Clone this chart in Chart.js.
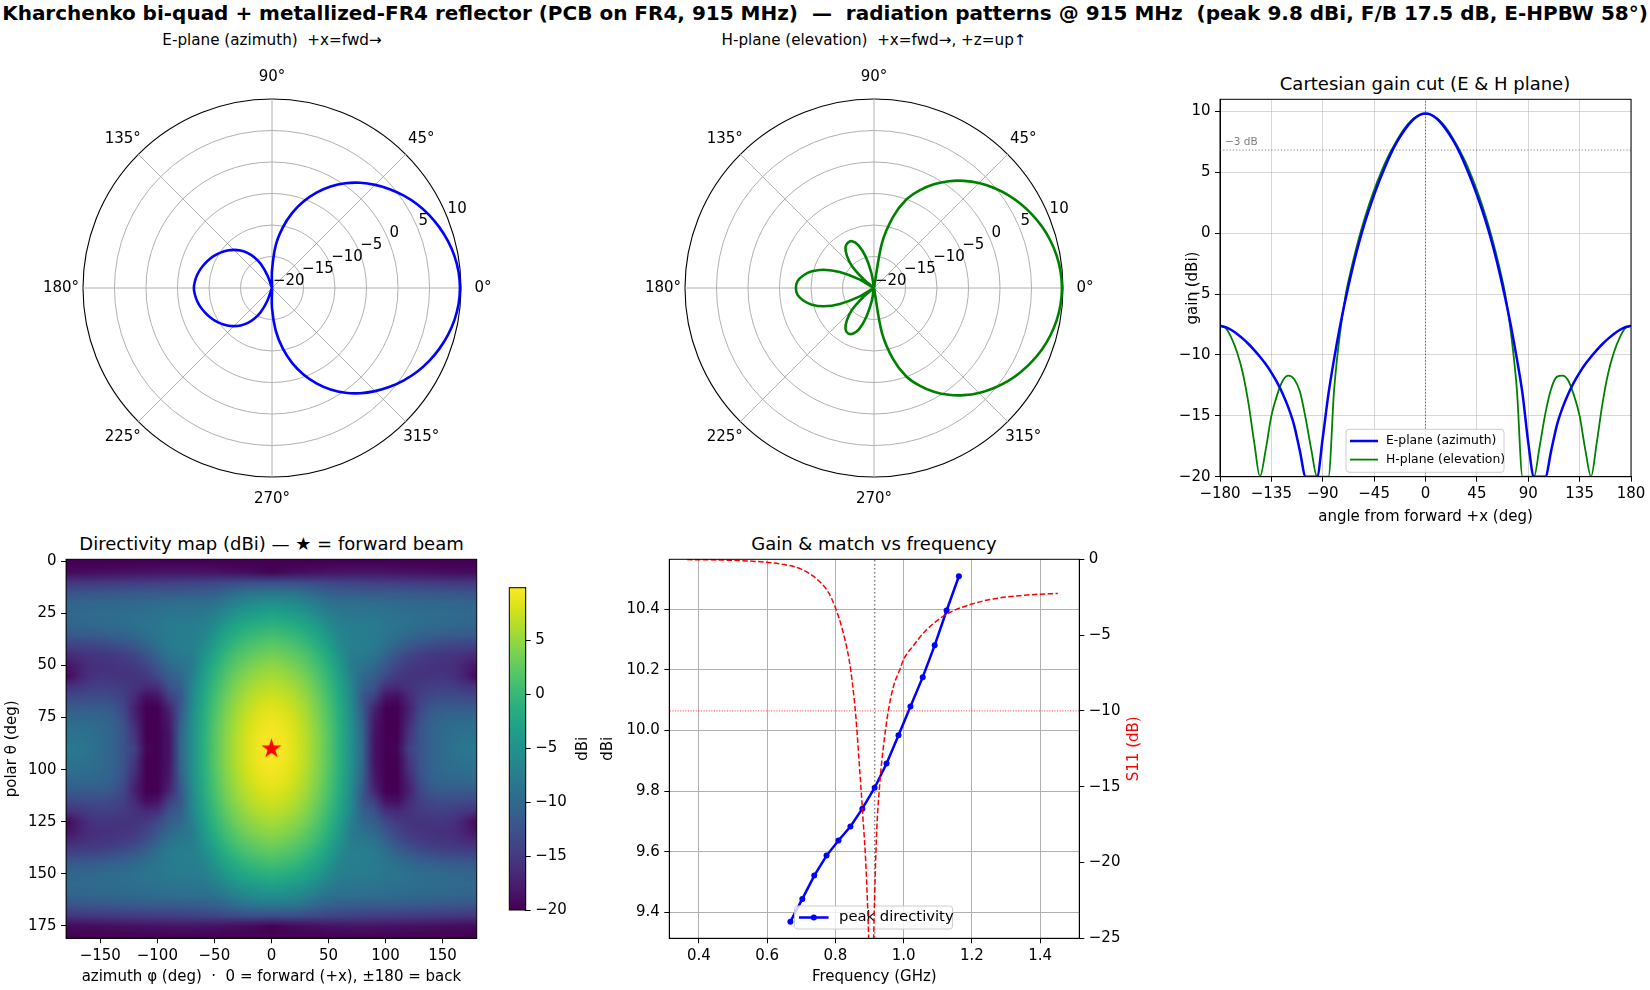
<!DOCTYPE html>
<html>
<head>
<meta charset="utf-8">
<script src="https://cdn.jsdelivr.net/npm/chart.js@4.4.0/dist/chart.umd.min.js"></script>
<style>
  html, body { margin: 0; padding: 0; background: #fff; overflow: hidden; }
  body { width: 1650px; height: 990px; position: relative; font-family: 'DejaVu Sans', sans-serif; }
  canvas { position: absolute; }
  .txt { position: absolute; white-space: pre; transform: translate(-50%, -50%); color: #000; }
</style>
</head>
<body>
<div class="txt" style="left:825px;top:13px;font-size:20px;font-weight:bold">Kharchenko bi-quad + metallized-FR4 reflector (PCB on FR4, 915 MHz)  —  radiation patterns @ 915 MHz  (peak 9.8 dBi, F/B 17.5 dB, E-HPBW 58°)</div>
<div class="txt" style="left:272px;top:40px;font-size:15.2px">E-plane (azimuth)  +x=fwd→</div>
<div class="txt" style="left:874px;top:40px;font-size:15.2px">H-plane (elevation)  +x=fwd→, +z=up↑</div>
<div class="txt" style="left:1425px;top:83px;font-size:18px">Cartesian gain cut (E &amp; H plane)</div>
<div class="txt" style="left:271.5px;top:543px;font-size:18px">Directivity map (dBi) — ★ = forward beam</div>
<div class="txt" style="left:874px;top:543px;font-size:18px">Gain &amp; match vs frequency</div>

<canvas id="ePolar" width="480" height="480" style="left:32px;top:48px;width:480px;height:480px"></canvas>
<canvas id="hPolar" width="480" height="480" style="left:634px;top:48px;width:480px;height:480px"></canvas>
<canvas id="cut" width="500" height="470" style="left:1150px;top:60px;width:500px;height:470px"></canvas>
<canvas id="heat" width="500" height="470" style="left:0px;top:520px;width:500px;height:470px"></canvas>
<canvas id="cbar" width="100" height="380" style="left:500px;top:560px;width:100px;height:380px"></canvas>
<canvas id="freq" width="590" height="470" style="left:590px;top:520px;width:590px;height:470px"></canvas>

<script>
// ---- pattern cuts, 5 deg steps, angle from forward +x ----
const angleDeg = [-180, -175, -170, -165, -160, -155, -150, -145, -140, -135, -130, -125, -120, -115, -110, -105, -100, -95, -90,
  -85, -80, -75, -70, -65, -60, -55, -50, -45, -40, -35, -30, -25, -20, -15, -10, -5, 0,
  5, 10, 15, 20, 25, 30, 35, 40, 45, 50, 55, 60, 65, 70, 75, 80, 85, 90,
  95, 100, 105, 110, 115, 120, 125, 130, 135, 140, 145, 150, 155, 160, 165, 170, 175, 180]
const ePlaneDb = [-7.6, -7.72, -7.95, -8.27, -8.66, -9.1, -9.6, -10.15, -10.75, -11.45, -12.25, -13.2, -14.35, -15.8, -17.9, -20, -20, -20, -16.8,
  -13.2, -10.3, -7.7, -5.4, -3.3, -1.4, 0.3, 1.8, 3.15, 4.4, 5.55, 6.6, 7.5, 8.25, 8.9, 9.4, 9.72, 9.83,
  9.72, 9.4, 8.9, 8.25, 7.5, 6.6, 5.55, 4.4, 3.15, 1.8, 0.3, -1.4, -3.3, -5.4, -7.7, -10.3, -13.2, -17.2,
  -20, -20, -20, -17.9, -15.8, -14.35, -13.2, -12.25, -11.45, -10.75, -10.15, -9.6, -9.1, -8.66, -8.27, -7.95, -7.72, -7.6]
const hPlaneDb = [-7.6, -7.8, -8.6, -9.8, -11.5, -14.0, -17.2, -20, -17.8, -15.0, -13.3, -12.1, -11.7, -12.0, -13.0, -15.2, -17.8, -20, -20,
  -20, -12.8, -8.3, -5.1, -2.9, -1.0, 0.7, 2.2, 3.55, 4.75, 5.85, 6.8, 7.65, 8.4, 9.0, 9.45, 9.73, 9.83,
  9.73, 9.45, 9.0, 8.4, 7.65, 6.8, 5.85, 4.75, 3.55, 2.2, 0.7, -1.0, -2.9, -5.1, -8.3, -12.8, -20, -20,
  -20, -17.5, -14.8, -12.8, -11.8, -11.7, -12.1, -13.3, -15.0, -17.8, -20, -17.2, -14.0, -11.5, -9.8, -8.6, -7.8, -7.6]
const peakDbi = 9.83

const thetaTicks = [0, 45, 90, 135, 180, 225, 270, 315]
const rTicks = [-20, -15, -10, -5, 0, 5, 10]
const cutXTicks = [-180, -135, -90, -45, 0, 45, 90, 135, 180]
const cutYTicks = [-20, -15, -10, -5, 0, 5, 10]

// ---- directivity map, one quadrant (phi 0..180 by 10, theta 0..90 by 5); the map is mirrored in phi and theta ----
const heatPhi = [0, 10, 20, 30, 40, 50, 60, 70, 80, 90, 100, 110, 120, 130, 140, 150, 160, 170, 180]
const heatTheta = [0, 5, 10, 15, 20, 25, 30, 35, 40, 45, 50, 55, 60, 65, 70, 75, 80, 85, 90]
const dirQuadrant = [
  [-20, -20, -20, -20, -20, -20, -20, -20, -20, -20, -20, -20, -20, -20, -20, -20, -20, -20, -20],
  [-20, -19.5, -19.2, -19.0, -18.8, -18.6, -18.5, -18.4, -18.4, -18.4, -18.5, -18.6, -18.7, -18.8, -18.9, -19.0, -19.1, -19.2, -19.3],
  [-12.8, -12.9, -13.0, -13.2, -13.5, -13.8, -14.0, -14.2, -14.4, -14.5, -14.6, -14.7, -14.8, -14.9, -15.0, -15.1, -15.2, -15.3, -15.4],
  [-8.3, -8.4, -8.6, -9.3, -10.2, -11.0, -11.3, -11.4, -11.5, -11.5, -11.6, -11.7, -11.8, -11.9, -12.0, -12.1, -12.2, -12.3, -12.4],
  [-5.1, -5.4, -6.0, -6.8, -7.9, -8.8, -9.0, -9.1, -9.2, -9.3, -9.5, -9.7, -9.9, -10.0, -10.1, -10.2, -10.3, -10.4, -10.5],
  [-2.9, -3.3, -3.8, -4.6, -5.9, -7.3, -8.2, -8.3, -8.4, -8.5, -8.8, -9.0, -9.2, -9.4, -9.5, -9.6, -9.7, -9.8, -9.9],
  [-1.0, -1.4, -1.9, -2.8, -4.1, -5.9, -7.3, -7.5, -7.6, -7.8, -8.2, -8.6, -9.0, -9.3, -9.6, -9.8, -10.0, -10.2, -10.4],
  [0.7, 0.3, -0.3, -1.3, -2.7, -4.6, -6.8, -7.4, -7.5, -7.7, -8.4, -9.2, -9.9, -10.5, -10.9, -11.2, -11.4, -11.6, -11.7],
  [2.2, 1.8, 1.2, 0.1, -1.4, -3.4, -5.9, -7.3, -7.4, -7.8, -9.2, -10.6, -11.8, -12.6, -13.2, -13.6, -13.8, -14.0, -14.2],
  [3.55, 3.1, 2.4, 1.4, -0.2, -2.4, -4.95, -7.6, -8.0, -8.5, -10.5, -12.4, -13.8, -14.6, -15.1, -15.4, -15.6, -16.0, -16.5],
  [4.75, 4.3, 3.6, 2.4, 0.8, -1.4, -4.2, -7.9, -8.8, -10.0, -12.0, -13.8, -15.0, -15.5, -15.8, -16.0, -16.3, -17.3, -18.5],
  [5.85, 5.4, 4.6, 3.4, 1.7, -0.6, -3.5, -7.3, -10.2, -11.2, -13.5, -15.0, -15.6, -15.7, -15.6, -15.5, -16.0, -17.5, -19.5],
  [6.8, 6.4, 5.6, 4.2, 2.4, 0.1, -2.8, -6.7, -11.0, -12.5, -16.0, -16.5, -15.8, -15.0, -14.6, -14.5, -14.8, -15.4, -16.0],
  [7.65, 7.25, 6.4, 4.95, 3.1, 0.7, -2.4, -6.3, -12.1, -14.5, -18.5, -19.0, -16.5, -14.5, -13.5, -13.2, -13.2, -13.4, -13.6],
  [8.4, 8.0, 7.05, 5.6, 3.6, 1.2, -1.9, -5.9, -11.9, -17.0, -20, -20, -17.5, -13.8, -12.0, -11.5, -11.4, -11.5, -11.6],
  [9.0, 8.6, 7.6, 6.05, 4.0, 1.5, -1.6, -5.6, -11.3, -18.0, -20, -20, -17.0, -13.0, -11.0, -10.4, -10.2, -10.1, -10.0],
  [9.45, 9.0, 8.0, 6.4, 4.3, 1.8, -1.4, -5.4, -10.8, -18.3, -20, -20, -16.0, -12.5, -10.7, -9.8, -9.4, -9.2, -9.1],
  [9.73, 9.3, 8.2, 6.6, 4.5, 1.95, -1.3, -5.3, -10.5, -18.5, -20, -20, -15.5, -12.3, -10.5, -9.6, -9.0, -8.7, -8.5],
  [9.83, 9.4, 8.25, 6.6, 4.4, 1.8, -1.4, -5.4, -10.3, -18.5, -20, -19.5, -14.4, -12.3, -10.8, -9.6, -8.7, -8.0, -7.6]
]
const colorMin = -20
const colorMax = 9.85
const heatXTicks = [-150, -100, -50, 0, 50, 100, 150]
const heatYTicks = [0, 25, 50, 75, 100, 125, 150, 175]
const cbarTicks = [-20, -15, -10, -5, 0, 5]
const beam = { phi: 0, theta: 90 }

// ---- frequency sweep ----
const freqGHz = [0.668, 0.703, 0.738, 0.774, 0.809, 0.844, 0.879, 0.915, 0.950, 0.985, 1.020, 1.056, 1.091, 1.126, 1.162]
const peakDir = [9.369, 9.444, 9.521, 9.587, 9.637, 9.683, 9.742, 9.811, 9.891, 9.984, 10.079, 10.176, 10.281, 10.396, 10.509]
const s11Freq = [0.365, 0.45, 0.5, 0.55, 0.6, 0.65, 0.7, 0.75, 0.78, 0.8, 0.82, 0.84, 0.85, 0.86, 0.87, 0.88, 0.89, 0.9, 0.905,
  0.91, 0.92, 0.93, 0.94, 0.955, 0.97, 0.99, 1.0, 1.025, 1.065, 1.12, 1.2, 1.28, 1.35, 1.4, 1.452]
const s11Db = [-0.02, -0.04, -0.07, -0.12, -0.2, -0.35, -0.65, -1.4, -2.2, -3.2, -4.6, -6.6, -8.2, -10.4, -13.5, -16.8, -20.5, -27, -33,
  -27, -18.5, -14.8, -12.5, -10.0, -8.4, -7.2, -6.6, -5.8, -4.7, -3.7, -2.95, -2.55, -2.38, -2.3, -2.25]
const designGHz = 0.915
const s11Limit = -10
const freqXTicks = [0.4, 0.6, 0.8, 1.0, 1.2, 1.4]
const freqYTicks = [9.4, 9.6, 9.8, 10.0, 10.2, 10.4]
const s11Ticks = [-25, -20, -15, -10, -5, 0]

const FS = 15
Chart.defaults.font.family = "'DejaVu Sans', sans-serif"
Chart.defaults.font.size = FS
Chart.defaults.color = '#000'
Chart.defaults.animation = false
Chart.defaults.responsive = false
Chart.defaults.events = []
Chart.defaults.plugins.legend.display = false
Chart.defaults.plugins.tooltip.enabled = false

const FONT = "'DejaVu Sans', sans-serif"
const fmt = (v) => (v < 0 ? '\u2212' : '') + Math.abs(v)
const tickList = (arr) => (s) => { s.ticks = arr.map((v) => ({ value: v })) }

const viridis = ['#440154', '#48186a', '#472d7b', '#424086', '#3b528b', '#33638d', '#2c728e', '#26828e', '#21918c',
  '#1fa088', '#28ae80', '#3fbc73', '#5ec962', '#84d44b', '#addc30', '#d8e219', '#fde725']
const hex = (h) => [parseInt(h.slice(1, 3), 16), parseInt(h.slice(3, 5), 16), parseInt(h.slice(5, 7), 16)]
function viridisRGB(v) {
  let t = (v - colorMin) / (colorMax - colorMin)
  t = Math.max(0, Math.min(1, t))
  const p = t * 16
  const i = Math.min(15, Math.floor(p))
  const f = p - i
  const a = hex(viridis[i]), b = hex(viridis[i + 1])
  return [0, 1, 2].map((k) => Math.round(a[k] + (b[k] - a[k]) * f))
}

const framePlugin = {
  id: 'frame',
  afterDatasetsDraw(chart) {
    const { ctx, chartArea: a } = chart
    ctx.save()
    ctx.strokeStyle = '#000'
    ctx.lineWidth = 1
    ctx.strokeRect(a.left, a.top, a.width, a.height)
    ctx.restore()
  }
}

function legendBox(ctx, x, y, w, h) {
  ctx.save()
  ctx.fillStyle = 'rgba(255,255,255,0.8)'
  ctx.strokeStyle = '#cccccc'
  ctx.lineWidth = 1
  ctx.beginPath()
  if (ctx.roundRect) ctx.roundRect(x, y, w, h, 3)
  else ctx.rect(x, y, w, h)
  ctx.fill()
  ctx.stroke()
  ctx.restore()
}

function sideLabel(ctx, text, x, y, color) {
  ctx.save()
  ctx.translate(x, y)
  ctx.rotate(-Math.PI / 2)
  ctx.fillStyle = color
  ctx.font = FS + 'px ' + FONT
  ctx.textAlign = 'center'
  ctx.textBaseline = 'middle'
  ctx.fillText(text, 0, 0)
  ctx.restore()
}

// ---- polar plots (radar, anticlockwise from +x like matplotlib) ----
const polarLabels = []
for (let i = 0; i < 72; i++) polarLabels.push((360 - 5 * i) % 360)
function polarSeries(vals) {
  return polarLabels.map((a) => vals[angleDeg.indexOf(a <= 180 ? a : a - 360)])
}

const polarText = {
  id: 'polarText',
  afterDraw(chart) {
    const r = chart.scales.r
    const ctx = chart.ctx
    ctx.save()
    ctx.fillStyle = '#000'
    ctx.font = FS + 'px ' + FONT
    ctx.textAlign = 'center'
    ctx.textBaseline = 'middle'
    thetaTicks.forEach((a) => {
      const p = r.getPointPosition(chart.data.labels.indexOf(a), r.drawingArea + 22)
      ctx.fillText(a + '°', p.x, p.y)
    })
    ctx.textAlign = 'left'
    ctx.textBaseline = 'bottom'
    const ang = 22.5 * Math.PI / 180
    rTicks.forEach((v) => {
      const d = r.getDistanceFromCenterForValue(v)
      ctx.fillText(fmt(v), r.xCenter + d * Math.cos(ang) + 1, r.yCenter - d * Math.sin(ang) + 1)
    })
    ctx.restore()
  }
}

function polarChart(id, vals, color) {
  return new Chart(document.getElementById(id), {
    type: 'radar',
    data: {
      labels: polarLabels,
      datasets: [{ data: polarSeries(vals), borderColor: color, borderWidth: 2.6, pointRadius: 0, fill: false, tension: 0.3 }]
    },
    options: {
      layout: { padding: 51 },
      scales: {
        r: {
          min: -20,
          max: 10,
          startAngle: 90,
          ticks: { display: false, stepSize: 5 },
          pointLabels: { display: false },
          grid: {
            circular: true,
            color: (c) => (c.tick && c.tick.value === 10 ? '#000' : '#b0b0b0'),
            lineWidth: (c) => (c.tick && c.tick.value === 10 ? 1.1 : 1)
          },
          angleLines: { color: '#b0b0b0', lineWidth: (c) => (c.index % 9 === 0 ? 1 : 0) }
        }
      }
    },
    plugins: [polarText]
  })
}
polarChart('ePolar', ePlaneDb, '#0000ff')
polarChart('hPolar', hPlaneDb, '#008000')

// ---- cartesian cut ----
const cutExtras = {
  id: 'cutExtras',
  afterDatasetsDraw(chart) {
    const { ctx, chartArea: a, scales: { y } } = chart
    ctx.save()
    ctx.fillStyle = '#808080'
    ctx.font = '10.5px ' + FONT
    ctx.textAlign = 'left'
    ctx.textBaseline = 'bottom'
    ctx.fillText('\u22123 dB', a.left + 5, y.getPixelForValue(peakDbi - 3) - 3)
    ctx.restore()

    const x0 = a.left + 126, y0 = a.top + 330
    legendBox(ctx, x0, y0, 158, 43)
    const rows = [
      { text: 'E-plane (azimuth)', color: '#0000ff', w: 2.5 },
      { text: 'H-plane (elevation)', color: '#008000', w: 1.8 }
    ]
    ctx.save()
    ctx.font = '12.4px ' + FONT
    ctx.textBaseline = 'middle'
    rows.forEach((r, i) => {
      const yy = y0 + 11.7 + i * 18.6
      ctx.strokeStyle = r.color
      ctx.lineWidth = r.w
      ctx.beginPath()
      ctx.moveTo(x0 + 4, yy)
      ctx.lineTo(x0 + 32, yy)
      ctx.stroke()
      ctx.fillStyle = '#000'
      ctx.fillText(r.text, x0 + 40, yy)
    })
    ctx.restore()
  }
}

new Chart(document.getElementById('cut'), {
  type: 'scatter',
  data: {
    datasets: [
      { data: angleDeg.map((a, i) => ({ x: a, y: ePlaneDb[i] })), borderColor: '#0000ff', borderWidth: 2.5, showLine: true, pointRadius: 0, cubicInterpolationMode: 'monotone' },
      { data: angleDeg.map((a, i) => ({ x: a, y: hPlaneDb[i] })), borderColor: '#008000', borderWidth: 1.8, showLine: true, pointRadius: 0, cubicInterpolationMode: 'monotone' },
      { data: [{ x: 0, y: -20 }, { x: 0, y: 11 }], borderColor: '#555555', borderWidth: 0.9, borderDash: [1.2, 2], showLine: true, pointRadius: 0 },
      { data: [{ x: -180, y: peakDbi - 3 }, { x: 180, y: peakDbi - 3 }], borderColor: '#777777', borderWidth: 0.9, borderDash: [1.2, 2], showLine: true, pointRadius: 0 }
    ]
  },
  options: {
    layout: { padding: { left: 30, right: 19, top: 39.3, bottom: 1 } },
    scales: {
      x: {
        type: 'linear', min: -180, max: 180,
        afterBuildTicks: tickList(cutXTicks),
        afterFit: (s) => { s.height = 52.3 },
        ticks: { callback: fmt, autoSkip: false, maxRotation: 0, padding: 3.5 },
        grid: { color: 'rgba(176,176,176,0.5)', lineWidth: 1, tickLength: 5, tickColor: '#000' },
        border: { color: '#000' },
        title: { display: true, text: 'angle from forward +x (deg)', padding: { top: 0, bottom: 3 } }
      },
      y: {
        type: 'linear', min: -20, max: 11,
        afterBuildTicks: tickList(cutYTicks),
        afterFit: (s) => { s.width = 40 },
        ticks: { callback: fmt, autoSkip: false, padding: 4.5 },
        grid: { color: 'rgba(176,176,176,0.5)', lineWidth: 1, tickLength: 5, tickColor: '#000' },
        border: { color: '#000' },
        title: { display: true, text: 'gain (dBi)', padding: { top: 4, bottom: 0 } }
      }
    }
  },
  plugins: [framePlugin, cutExtras]
})

// ---- directivity map ----
function starImage(R, color) {
  const size = Math.ceil(R * 2 + 4)
  const c = document.createElement('canvas')
  c.width = size
  c.height = size
  const g = c.getContext('2d')
  g.fillStyle = color
  g.beginPath()
  for (let k = 0; k < 10; k++) {
    const r = k % 2 ? R * 0.382 : R
    const ang = -Math.PI / 2 + k * Math.PI / 5
    g.lineTo(size / 2 + r * Math.cos(ang), size / 2 + r * Math.sin(ang))
  }
  g.closePath()
  g.fill()
  return c
}

const heatPlugin = {
  id: 'heat',
  beforeDatasetsDraw(chart) {
    const { ctx, chartArea: a, scales: { x, y } } = chart
    const nq = heatPhi.length
    const colPhi = heatPhi.slice(1).reverse().map((p) => -p).concat(heatPhi)
    const rowIdx = heatTheta.map((t, i) => i).concat(heatTheta.slice(0, -1).map((t, i) => heatTheta.length - 2 - i))
    const img = document.createElement('canvas')
    img.width = colPhi.length
    img.height = rowIdx.length
    const g = img.getContext('2d')
    const id = g.createImageData(img.width, img.height)
    rowIdx.forEach((ri, r) => {
      colPhi.forEach((p, c) => {
        const v = dirQuadrant[ri][heatPhi.indexOf(Math.abs(p))]
        const rgb = viridisRGB(v)
        const o = (r * img.width + c) * 4
        id.data[o] = rgb[0]
        id.data[o + 1] = rgb[1]
        id.data[o + 2] = rgb[2]
        id.data[o + 3] = 255
      })
    })
    g.putImageData(id, 0, 0)
    const dPhi = heatPhi[1] - heatPhi[0], dTh = heatTheta[1] - heatTheta[0]
    const x0 = x.getPixelForValue(-heatPhi[nq - 1] - dPhi / 2)
    const x1 = x.getPixelForValue(heatPhi[nq - 1] + dPhi / 2)
    const y0 = y.getPixelForValue(-dTh / 2)
    const y1 = y.getPixelForValue(2 * heatTheta[heatTheta.length - 1] + dTh / 2)
    ctx.save()
    ctx.beginPath()
    ctx.rect(a.left, a.top, a.width, a.height)
    ctx.clip()
    ctx.imageSmoothingEnabled = true
    ctx.imageSmoothingQuality = 'low'
    ctx.drawImage(img, x0, y0, x1 - x0, y1 - y0)
    ctx.restore()
  }
}

new Chart(document.getElementById('heat'), {
  type: 'scatter',
  data: {
    datasets: [{ data: [{ x: beam.phi, y: beam.theta }], pointStyle: starImage(10.5, '#ff0000'), pointRadius: 10 }]
  },
  options: {
    layout: { padding: { left: 0, right: 23.3, top: 39.3, bottom: 1 } },
    scales: {
      x: {
        type: 'linear', min: -180, max: 180,
        afterBuildTicks: tickList(heatXTicks),
        afterFit: (s) => { s.height = 50.7 },
        ticks: { callback: fmt, autoSkip: false, maxRotation: 0, padding: 3.5 },
        grid: { drawOnChartArea: false, tickLength: 5, tickColor: '#000' },
        border: { color: '#000' },
        title: { display: true, text: 'azimuth φ (deg)  ·  0 = forward (+x), ±180 = back', padding: { top: 0, bottom: 3 } }
      },
      y: {
        type: 'linear', min: -1, max: 181, reverse: true,
        afterBuildTicks: tickList(heatYTicks),
        afterFit: (s) => { s.width = 66.1 },
        ticks: { callback: fmt, autoSkip: false, padding: 4.5 },
        grid: { drawOnChartArea: false, tickLength: 5, tickColor: '#000' },
        border: { color: '#000' },
        title: { display: true, text: 'polar θ (deg)', padding: { top: 3.6, bottom: 0 } }
      }
    }
  },
  plugins: [heatPlugin, framePlugin]
})

// ---- colour bar ----
const cbarPlugin = {
  id: 'cbarFill',
  beforeDatasetsDraw(chart) {
    const { ctx, chartArea: a } = chart
    const grad = ctx.createLinearGradient(0, a.bottom, 0, a.top)
    viridis.forEach((c, i) => grad.addColorStop(i / (viridis.length - 1), c))
    ctx.save()
    ctx.fillStyle = grad
    ctx.fillRect(a.left, a.top, a.width, a.height)
    ctx.restore()
    sideLabel(ctx, 'dBi', a.right + 57.3, (a.top + a.bottom) / 2, '#000')
  }
}

new Chart(document.getElementById('cbar'), {
  type: 'scatter',
  data: { datasets: [] },
  options: {
    layout: { padding: { left: 9.3, right: 24.3, top: 27.7, bottom: 30 } },
    scales: {
      x: { display: false, min: 0, max: 1 },
      y: {
        position: 'right', min: colorMin, max: colorMax,
        afterBuildTicks: tickList(cbarTicks),
        afterFit: (s) => { s.width = 50 },
        ticks: { callback: fmt, autoSkip: false, padding: 4.5 },
        grid: { drawOnChartArea: false, tickLength: 5, tickColor: '#000' },
        border: { color: '#000' }
      }
    }
  },
  plugins: [cbarPlugin, framePlugin]
})

// ---- gain & match vs frequency ----
const freqExtras = {
  id: 'freqExtras',
  afterDatasetDraw(chart, args) {
    if (chart.data.datasets[args.index].label !== 'peak directivity') return
    const { ctx, chartArea: a } = chart
    const x0 = a.left + 125.3, y0 = a.top + 346.7
    legendBox(ctx, x0, y0, 158, 23)
    const yy = y0 + 11.5
    ctx.save()
    ctx.strokeStyle = '#0000ff'
    ctx.lineWidth = 2.5
    ctx.beginPath()
    ctx.moveTo(x0 + 4.4, yy)
    ctx.lineTo(x0 + 34, yy)
    ctx.stroke()
    ctx.fillStyle = '#0000ff'
    ctx.beginPath()
    ctx.arc(x0 + 19.2, yy, 3, 0, Math.PI * 2)
    ctx.fill()
    ctx.fillStyle = '#000'
    ctx.font = '14.8px ' + FONT
    ctx.textBaseline = 'middle'
    ctx.fillText('peak directivity', x0 + 44.4, yy)
    ctx.restore()
  },
  afterDraw(chart) {
    const a = chart.chartArea
    sideLabel(chart.ctx, 'S11 (dB)', a.right + 55.3, (a.top + a.bottom) / 2, '#ff0000')
  }
}

new Chart(document.getElementById('freq'), {
  type: 'scatter',
  data: {
    datasets: [
      { label: 'S11', data: s11Freq.map((f, i) => ({ x: f, y: s11Db[i] })), yAxisID: 'y2', order: 1, showLine: true, borderColor: '#ff0000', borderWidth: 1.5, borderDash: [5.5, 2.4], pointRadius: 0, cubicInterpolationMode: 'monotone' },
      { label: 'limit', data: [{ x: 0.2, y: s11Limit }, { x: 1.6, y: s11Limit }], yAxisID: 'y2', order: 1, showLine: true, borderColor: '#ff0000', borderWidth: 0.8, borderDash: [1, 1.6], pointRadius: 0 },
      { label: 'peak directivity', data: freqGHz.map((f, i) => ({ x: f, y: peakDir[i] })), yAxisID: 'y', order: 2, showLine: true, borderColor: '#0000ff', borderWidth: 2.5, pointRadius: 3, pointBackgroundColor: '#0000ff', pointBorderWidth: 0 },
      { label: 'design', data: [{ x: designGHz, y: 9.0 }, { x: designGHz, y: 11.0 }], yAxisID: 'y', order: 3, showLine: true, borderColor: '#808080', borderWidth: 1.5, borderDash: [1.5, 2.5], pointRadius: 0 }
    ]
  },
  options: {
    layout: { padding: { left: 0, right: 30.7, top: 39.3, bottom: 1 } },
    scales: {
      x: {
        type: 'linear', min: 0.313, max: 1.515,
        afterBuildTicks: tickList(freqXTicks),
        afterFit: (s) => { s.height = 50.7 },
        ticks: { callback: (v) => v.toFixed(1), autoSkip: false, maxRotation: 0, padding: 3.5 },
        grid: { color: '#b0b0b0', lineWidth: 1, tickLength: 5, tickColor: '#000' },
        border: { color: '#000' },
        title: { display: true, text: 'Frequency (GHz)', padding: { top: 0, bottom: 3 } }
      },
      y: {
        type: 'linear', position: 'left', min: 9.314, max: 10.565,
        afterBuildTicks: tickList(freqYTicks),
        afterFit: (s) => { s.width = 79.3 },
        ticks: { callback: (v) => v.toFixed(1), autoSkip: false, padding: 4.5 },
        grid: { color: '#b0b0b0', lineWidth: 1, tickLength: 5, tickColor: '#000' },
        border: { color: '#000' },
        title: { display: true, text: 'dBi', padding: { top: 9, bottom: 0 } }
      },
      y2: {
        type: 'linear', position: 'right', min: -25, max: 0,
        afterBuildTicks: tickList(s11Ticks),
        afterFit: (s) => { s.width = 70 },
        ticks: { callback: fmt, autoSkip: false, padding: 4.5 },
        grid: { drawOnChartArea: false, tickLength: 5, tickColor: '#000' },
        border: { color: '#000' }
      }
    }
  },
  plugins: [framePlugin, freqExtras]
})
</script>
</body>
</html>
